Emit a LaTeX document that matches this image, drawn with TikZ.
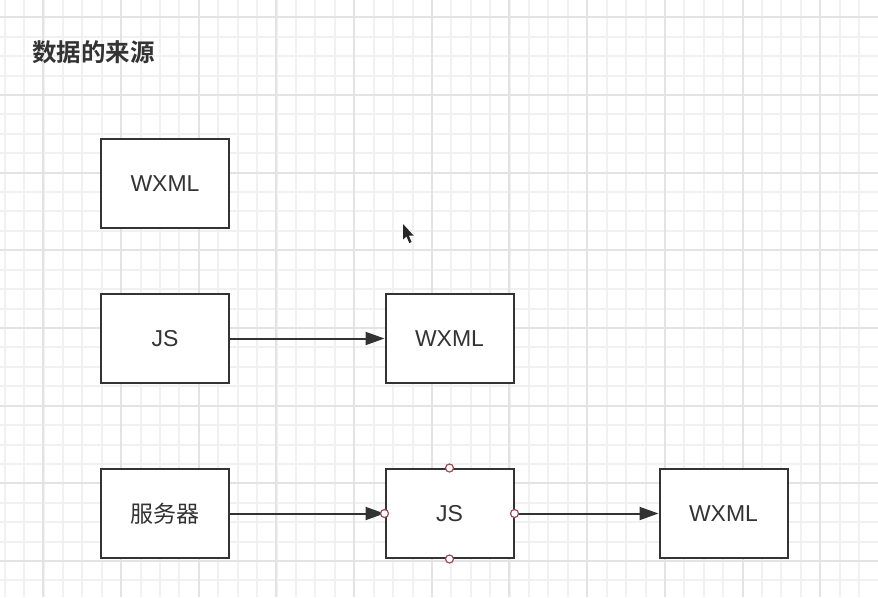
\documentclass[tikz,border=0pt]{standalone}
\usepackage{fontspec}
\setmainfont{Liberation Sans}
\newfontfamily\cjk{Noto Sans CJK SC}[BoldFont={Noto Sans CJK SC Bold}]
\usetikzlibrary{arrows.meta}
\definecolor{ink}{HTML}{333333}
\definecolor{gridminor}{HTML}{F1F1F1}
\definecolor{gridmajor}{HTML}{E3E3E3}
\definecolor{handle}{HTML}{9A4A55}
\tikzset{
  boxnode/.style={draw=ink, line width=2pt, fill=white, minimum width=128pt, minimum height=89pt, inner sep=0pt, text=ink, font=\fontsize{23pt}{25pt}\selectfont},
  flow/.style={draw=ink, line width=2pt, -{Triangle[length=19pt,width=13pt]}},
  handledot/.style={circle, draw=handle, line width=1.2pt, fill=white, minimum size=8pt, inner sep=0pt},
  minorline/.style={gridminor, line width=2pt},
  majorline/.style={gridmajor, line width=2pt},
}
\begin{document}
\begin{tikzpicture}[x=1pt,y=-1pt]
\useasboundingbox (0,0) rectangle (878,597);
\fill[white] (0,0) rectangle (878,597);
% grid
\foreach \k in {0,...,44} {
  \pgfmathsetmacro{\gx}{round(4.7+19.42*\k)}
  \draw[minorline] (\gx,0) -- (\gx,597);
}
\foreach \k in {0,...,29} {
  \pgfmathsetmacro{\gy}{round(17.3+19.42*\k)}
  \draw[minorline] (0,\gy) -- (878,\gy);
}
\foreach \k in {0,...,10} {
  \pgfmathsetmacro{\gx}{round(43.4+77.68*\k)}
  \draw[majorline] (\gx,0) -- (\gx,597);
}
\foreach \k in {0,...,7} {
  \pgfmathsetmacro{\gy}{round(17.3+77.68*\k)}
  \draw[majorline] (0,\gy) -- (878,\gy);
}
% title
\node[anchor=west, inner sep=0pt, text=ink, font=\cjk\bfseries\fontsize{24.5pt}{26pt}\selectfont] (title) at (32,52.5) {数据的来源};
% boxes
\node[boxnode] (w1) at (165,183.5) {WXML};
\node[boxnode] (js1) at (165,338.5) {JS};
\node[boxnode] (w2) at (449.5,338.5) {WXML};
\node[boxnode] (srv) at (165,513.5) {\cjk 服务器};
\node[boxnode] (js2) at (449.5,513.5) {JS};
\node[boxnode] (w3) at (723.5,513.5) {WXML};
% connectors
\draw[flow] (js1) -- (w2);
\draw[flow] (srv) -- (js2);
\draw[flow] (js2) -- (w3);
% selection handles
\node[handledot] (hn) at (js2.north) {};
\node[handledot] (hs) at (js2.south) {};
\node[handledot] (hw) at (js2.west) {};
\node[handledot] (he) at (js2.east) {};
% mouse cursor
\fill[black!85] (403,224) -- (403,239.5) -- (406.5,236.5) -- (409.3,243) -- (411.6,242) -- (408.8,235.5) -- (413.5,235.5) -- cycle;
\end{tikzpicture}
\end{document}
